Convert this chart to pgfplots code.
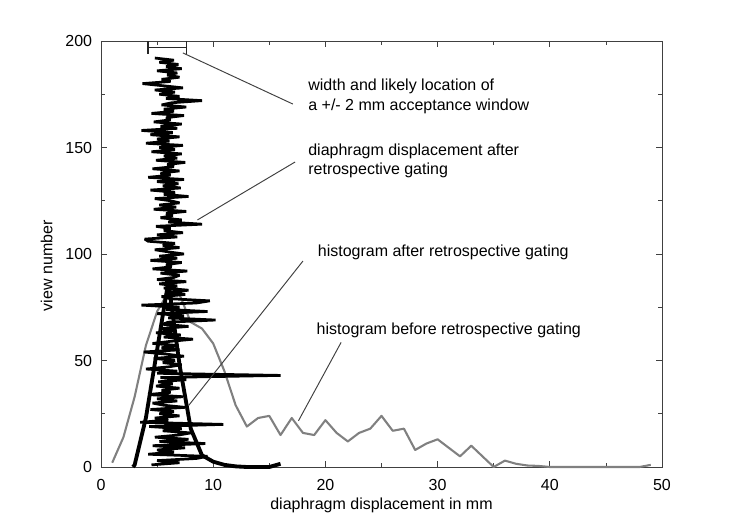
\documentclass[border=0pt]{standalone}
\usepackage{pgfplots}
\pgfplotsset{compat=1.18}
\usepackage{pgfplotstable}
\usepackage{fontspec}
\setmainfont{Liberation Sans}

\pgfplotstableread{
x y
1 2
2 14
3 33
4 57
5 73
6 82
7 81
8 68
9 65
10 58
11 45
12 29
13 19
14 23
15 24
16 15
17 23
18 16
19 15
20 22
21 16
22 12
23 16
24 18
25 24
26 17
27 18
28 8
29 11
30 13
31 9
32 5
33 10
34 5
35 0
36 3
37 1.5
38 0.7
39 0.5
40 0
41 0
42 0
43 0
44 0
45 0
46 0
47 0
48 0
49 1
}\before

\pgfplotstableread{
x y
2.85 0
3 1
4 23
5 55
6 87
7 48
8 18
9 5.5
10 2.5
11 1
12 0.3
13 0
14 0
15 0
16 1.5
}\after

\pgfplotstableread{
x y
4.5 1
7.0 2
5.0 3
8.5 4
9.5 5
4.2 6
6.5 7
5.0 8
7.5 9
4.6 10
9.3 11
5.2 12
7.8 13
4.8 14
6.9 15
8.0 16
5.5 17
7.2 18
4.3 19
10.9 20
3.5 21
6.0 22
4.8 23
7.0 24
5.2 25
6.5 26
4.4 27
7.5 28
5.6 29
4.6 30
6.8 31
5.0 32
7.3 33
4.2 34
6.2 35
5.4 36
7.0 37
4.9 38
6.4 39
5.1 40
7.6 41
5.3 42
16.0 43
5.0 44
6.8 45
4.0 46
6.0 47
7.2 48
5.5 49
6.6 50
4.7 51
7.4 52
5.8 53
3.8 54
7.0 55
5.4 56
6.9 57
4.6 58
6.2 59
8.2 60
5.6 61
7.1 62
4.9 63
6.7 64
5.3 65
7.8 66
5.5 67
6.0 68
10.2 69
6.0 70
7.4 71
5.0 72
9.5 73
5.8 74
7.0 75
3.6 76
8.5 77
9.7 78
6.2 79
5.4 80
7.5 81
6.0 82
7.8 83
5.6 84
6.8 85
5.2 86
7.6 87
5.0 88
6.5 89
7.0 90
5.3 91
7.7 92
4.6 93
6.3 94
5.8 95
7.2 96
4.4 97
6.8 98
5.2 99
7.4 100
6.0 101
4.8 102
7.0 103
5.5 104
6.6 105
4.2 106
3.9 107
6.8 108
5.0 109
7.3 110
5.6 111
6.2 112
4.9 113
9.0 114
6.0 115
7.2 116
5.3 117
6.4 118
5.8 119
7.6 120
4.7 121
6.7 122
5.2 123
7.0 124
6.2 125
4.8 126
7.8 127
5.6 128
6.6 129
4.4 130
7.1 131
5.5 132
6.9 133
5.0 134
7.4 135
4.2 136
6.2 137
5.3 138
7.0 139
4.6 140
6.5 141
5.9 142
7.5 143
4.9 144
6.8 145
5.6 146
7.2 147
4.5 148
6.6 149
5.2 150
7.3 151
4.0 152
6.1 153
5.0 154
7.0 155
4.4 156
6.4 157
3.6 158
6.8 159
5.3 160
7.2 161
4.7 162
6.2 163
5.8 164
7.4 165
4.5 166
6.5 167
5.6 168
7.6 169
5.4 170
6.3 171
9.0 172
5.8 173
7.0 174
5.2 175
6.6 176
4.8 177
7.3 178
5.5 179
3.7 180
6.2 181
5.4 182
7.0 183
5.9 184
6.8 185
5.0 186
7.2 187
5.8 188
6.9 189
5.2 190
6.5 191
4.8 192
}\jagged

\begin{document}
\begin{tikzpicture}
\path[use as bounding box] (-63.125pt,-38.75pt) rectangle (405.625pt,291.875pt);
\begin{axis}[
  at={(0pt,0pt)}, anchor=south west,
  scale only axis,
  width=350.625pt, height=266.25pt,
  xmin=0, xmax=50, ymin=0, ymax=200,
  xtick={0,10,...,50}, ytick={0,50,...,200},
  minor x tick num=1, minor y tick num=1,
  tick align=inside,
  major tick length=4pt, minor tick length=2.5pt,
  axis line style={black!75, line width=0.6pt},
  every tick/.style={black!75, line width=0.5pt},
  /pgf/number format/assume math mode=true,
  tick label style={font=\normalsize},
  yticklabel style={xshift=-2pt},
  xticklabel style={yshift=-4pt},
  xlabel={diaphragm displacement in mm},
  ylabel={view number},
  xlabel style={at={(axis description cs:0.5,-0.0986)}, anchor=base},
  ylabel style={at={(axis description cs:-0.097,0.4725)}, anchor=center, rotate=0},
  clip=false,
]
\addplot[black!50, line width=1.3pt, line join=round] table[x=x,y=y] {\before};
\addplot[black, line width=2.4pt, line join=round] table[x=x,y=y] {\after};
\addplot[black, line width=1.7pt, line join=miter, miter limit=3] table[x=x,y=y] {\jagged};
\addplot[black!85, line width=1pt, |-|] coordinates {(4.1,197) (7.7,197)};

\draw[black!75, line width=0.6pt] (7.3,194.4) -- (17.1,170.4);
\draw[black!75, line width=0.6pt] (8.6,116) -- (17.3,143.2);
\draw[black!75, line width=0.6pt] (7.8,28.8) -- (18.0,96.7);
\draw[black!75, line width=0.6pt] (17.6,21.7) -- (21.4,58.5);

\node[anchor=west, align=left, inner sep=0pt] at (18.45,174) {width and likely location of\\a +/- 2 mm acceptance window};
\node[anchor=west, align=left, inner sep=0pt] at (18.45,143.7) {diaphragm displacement after\\retrospective gating};
\node[anchor=west, align=left, inner sep=0pt] at (19.3,101) {histogram after retrospective gating};
\node[anchor=west, align=left, inner sep=0pt] at (19.2,64) {histogram before retrospective gating};
\end{axis}
\end{tikzpicture}
\end{document}
